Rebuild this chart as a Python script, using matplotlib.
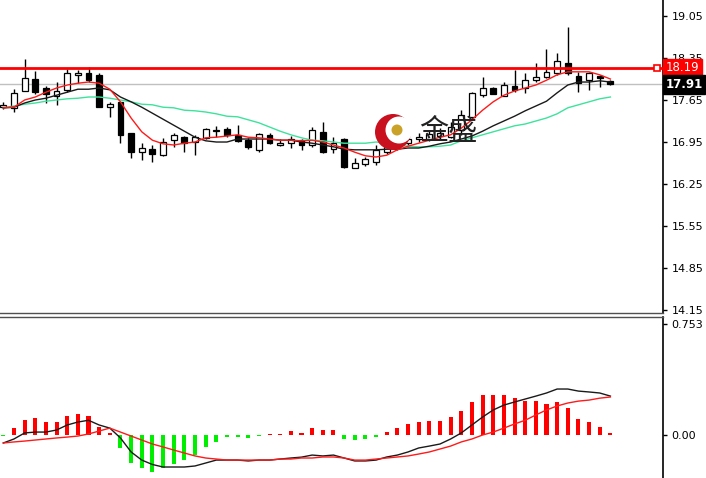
import matplotlib
matplotlib.use('Agg')
import matplotlib.pyplot as plt
import matplotlib.transforms as mtransforms
from matplotlib.patches import Ellipse
import numpy as np

# price candles
opens = [17.53, 17.52, 17.80, 18.00, 17.85, 17.72, 17.82, 18.07, 18.10, 18.07,
         17.53, 17.62, 17.10, 16.78, 16.83, 16.73, 16.98, 17.03, 16.95, 17.02,
         17.13, 17.17, 17.07, 16.98, 16.82, 17.07, 16.90, 16.93, 16.98, 16.90,
         17.12, 16.83, 17.00, 16.52, 16.58, 16.62, 16.78, 16.85, 16.93, 17.00,
         17.00, 17.05, 17.03, 17.15, 17.37, 17.73, 17.85, 17.72, 17.88, 17.85,
         17.98, 18.03, 18.10, 18.27, 18.05, 17.98, 18.05, 17.97]
highs = [17.62, 17.83, 18.33, 18.13, 17.88, 17.95, 18.17, 18.15, 18.20, 18.10,
         17.62, 17.62, 17.10, 16.93, 16.90, 17.02, 17.10, 17.05, 17.07, 17.18,
         17.22, 17.20, 17.23, 17.02, 17.10, 17.10, 17.00, 17.05, 17.00, 17.20,
         17.28, 17.03, 17.02, 16.68, 16.70, 16.90, 16.95, 17.02, 17.08, 17.10,
         17.15, 17.18, 17.28, 17.48, 17.78, 18.03, 17.87, 17.95, 18.15, 18.10,
         18.27, 18.50, 18.43, 18.87, 18.12, 18.12, 18.07, 17.98]
lows = [17.50, 17.45, 17.80, 17.75, 17.60, 17.57, 17.78, 17.93, 17.95, 17.53,
        17.37, 16.93, 16.68, 16.65, 16.62, 16.72, 16.87, 16.78, 16.73, 17.00,
        17.03, 17.03, 16.95, 16.83, 16.78, 16.92, 16.88, 16.85, 16.82, 16.87,
        16.77, 16.77, 16.52, 16.52, 16.55, 16.57, 16.75, 16.82, 16.90, 16.95,
        16.97, 17.00, 17.02, 17.07, 17.32, 17.70, 17.75, 17.72, 17.78, 17.77,
        17.95, 18.02, 18.07, 18.07, 17.78, 17.82, 17.87, 17.90]
closes = [17.56, 17.77, 18.02, 17.78, 17.75, 17.80, 18.10, 18.10, 17.98, 17.53,
          17.58, 17.07, 16.78, 16.85, 16.75, 16.95, 17.06, 16.93, 17.03, 17.17,
          17.15, 17.07, 16.97, 16.87, 17.08, 16.93, 16.93, 17.00, 16.90, 17.15,
          16.78, 16.93, 16.53, 16.60, 16.67, 16.82, 16.87, 16.95, 17.00, 17.03,
          17.08, 17.10, 17.20, 17.40, 17.77, 17.85, 17.75, 17.90, 17.82, 17.98,
          18.03, 18.12, 18.30, 18.10, 17.93, 18.10, 18.02, 17.91]

ma_fast = [17.52, 17.53, 17.65, 17.70, 17.78, 17.85, 17.90, 17.93, 17.95, 17.93,
           17.83, 17.62, 17.35, 17.12, 16.98, 16.92, 16.90, 16.93, 16.95, 17.02,
           17.03, 17.05, 17.07, 17.03, 17.02, 17.00, 16.98, 16.98, 16.97, 16.98,
           16.95, 16.90, 16.85, 16.78, 16.72, 16.70, 16.73, 16.82, 16.88, 16.93,
           16.98, 17.03, 17.07, 17.18, 17.32, 17.48, 17.62, 17.73, 17.80, 17.85,
           17.90, 17.98, 18.07, 18.12, 18.12, 18.12, 18.07, 18.00]
ma_mid = [17.52, 17.53, 17.60, 17.65, 17.68, 17.73, 17.78, 17.83, 17.83, 17.85,
          17.82, 17.70, 17.62, 17.53, 17.43, 17.33, 17.23, 17.13, 17.03, 16.97,
          16.95, 16.95, 17.00, 17.00, 17.00, 17.00, 16.98, 16.98, 16.95, 16.93,
          16.90, 16.87, 16.83, 16.82, 16.82, 16.82, 16.83, 16.83, 16.85, 16.85,
          16.88, 16.92, 16.95, 17.00, 17.05, 17.13, 17.22, 17.30, 17.38, 17.47,
          17.55, 17.63, 17.77, 17.90, 17.95, 17.95, 17.97, 17.95]
ma_slow = [17.52, 17.55, 17.58, 17.60, 17.63, 17.65, 17.67, 17.68, 17.70, 17.70,
           17.68, 17.65, 17.62, 17.58, 17.57, 17.53, 17.52, 17.48, 17.47, 17.45,
           17.42, 17.38, 17.37, 17.32, 17.27, 17.20, 17.13, 17.07, 17.02, 16.98,
           16.97, 16.95, 16.93, 16.93, 16.93, 16.95, 16.93, 16.90, 16.88, 16.87,
           16.87, 16.88, 16.90, 16.97, 17.02, 17.07, 17.12, 17.17, 17.22, 17.25,
           17.30, 17.35, 17.42, 17.52, 17.57, 17.62, 17.67, 17.70]

alert_level = 18.19
last_price = 17.91
price_ticks = [19.05, 18.35, 17.65, 16.95, 16.25, 15.55, 14.85, 14.15]

# MACD panel
hist = [-0.005, 0.047, 0.10, 0.115, 0.09, 0.09, 0.13, 0.14, 0.13, 0.055,
        0.012, -0.088, -0.19, -0.224, -0.25, -0.224, -0.20, -0.17, -0.135, -0.08,
        -0.047, -0.015, -0.012, -0.02, -0.006, 0.008, 0.008, 0.025, 0.015, 0.05,
        0.035, 0.035, -0.025, -0.035, -0.03, -0.012, 0.02, 0.045, 0.072, 0.088,
        0.095, 0.095, 0.122, 0.163, 0.226, 0.27, 0.27, 0.27, 0.25, 0.23,
        0.23, 0.21, 0.224, 0.18, 0.11, 0.088, 0.054, 0.012]
macd_line = [-0.054, -0.027, 0.014, 0.02, 0.02, 0.034, 0.068, 0.088, 0.10, 0.068,
             0.047, -0.02, -0.115, -0.17, -0.20, -0.217, -0.217, -0.217, -0.21, -0.19,
             -0.17, -0.17, -0.17, -0.176, -0.17, -0.17, -0.163, -0.156, -0.15, -0.136,
             -0.142, -0.136, -0.156, -0.176, -0.176, -0.17, -0.149, -0.136, -0.115, -0.088,
             -0.075, -0.061, -0.027, 0.014, 0.068, 0.122, 0.17, 0.203, 0.224, 0.244,
             0.264, 0.285, 0.312, 0.312, 0.298, 0.292, 0.285, 0.264]
signal_line = [-0.054, -0.047, -0.041, -0.034, -0.027, -0.020, -0.014, -0.007, 0.007, 0.027,
               0.047, 0.020, -0.007, -0.034, -0.061, -0.081, -0.102, -0.122, -0.142, -0.156,
               -0.163, -0.170, -0.170, -0.170, -0.170, -0.170, -0.163, -0.163, -0.156, -0.156,
               -0.149, -0.149, -0.156, -0.170, -0.170, -0.163, -0.156, -0.149, -0.142, -0.129,
               -0.115, -0.095, -0.075, -0.047, -0.027, 0.0, 0.02, 0.047, 0.075, 0.10,
               0.136, 0.17, 0.197, 0.217, 0.23, 0.237, 0.25, 0.258]
macd_ticks = [0.753, 0.0]
macd_labels = ['0.753', '0.00']

W, H = 706, 478
fig = plt.figure(figsize=(W / 100, H / 100), dpi=100)
axw = 663 / W
ax = fig.add_axes([0, 1 - 313 / H, axw, 313 / H])
ax2 = fig.add_axes([0, 0, axw, 161.5 / H])

x = np.arange(len(closes))
o = np.array(opens); c = np.array(closes)
up = c >= o

# candles
ax.vlines(x, lows, highs, color='black', lw=1, zorder=2)
body_lo = np.minimum(o, c)
body_h = np.maximum(np.abs(c - o), 0.012)
ax.bar(x, body_h, bottom=body_lo, width=0.55,
       color=np.where(up, 'white', 'black'), edgecolor='black', linewidth=0.9, zorder=3)

ax.plot(x, ma_slow, color='#3de39c', lw=1, zorder=4)
ax.plot(x, ma_mid, color='#1a1a1a', lw=1, zorder=4)
ax.plot(x, ma_fast, color='#ff1a1a', lw=1, zorder=4)

ax.axhline(last_price, color='#c0c0c0', lw=1, zorder=1)
ax.axhline(alert_level, color='#ff0000', lw=2, zorder=4)
trans = mtransforms.blended_transform_factory(ax.transAxes, ax.transData)
ax.plot([0.991], [alert_level], marker='s', ms=5, mfc='white', mec='red', mew=1.2,
        transform=trans, zorder=6, clip_on=False)

ax.set_xlim(-0.31, 61.94)
ax.set_ylim(14.10, 19.317)
ax.set_yticks(price_ticks)
ax.set_yticklabels(['%.2f' % t for t in price_ticks])
ax.yaxis.tick_right()
ax.tick_params(axis='y', direction='out', length=3, pad=3, labelsize=8, width=1)
ax.set_xticks([])
for s in ['left', 'top']:
    ax.spines[s].set_visible(False)
ax.spines['right'].set_linewidth(1.2)
ax.spines['bottom'].set_color('#505050')
ax.spines['bottom'].set_linewidth(1.0)

ax.text(1.004, alert_level, '%.2f' % alert_level, transform=trans, ha='left', va='center',
        color='white', fontsize=8.5, zorder=10, clip_on=False,
        bbox=dict(boxstyle='square,pad=0.22', fc='#ff0000', ec='#ff0000'))
ax.text(1.004, last_price, '%.2f' % last_price, transform=trans, ha='left', va='center',
        color='white', fontsize=8.5, fontweight='bold', zorder=10, clip_on=False,
        bbox=dict(boxstyle='square,pad=0.22', fc='black', ec='black'))

# watermark logo
cx, cy = 393 / 663, 1 - 132 / 313
ax.add_patch(Ellipse((cx, cy), 36 / 663, 36 / 313, transform=ax.transAxes,
                     fc='#c8101e', ec='none', zorder=7))
ax.add_patch(Ellipse((cx + 6 / 663, cy + 2 / 313), 27 / 663, 27 / 313, transform=ax.transAxes,
                     fc='white', ec='none', zorder=7))
ax.add_patch(Ellipse((cx + 4 / 663, cy + 2 / 313), 11 / 663, 11 / 313, transform=ax.transAxes,
                     fc='#c9a227', ec='none', zorder=8))
ax.text(448 / 663, cy, '金盛', transform=ax.transAxes, ha='center', va='center',
        fontsize=21, color='#222222', family=['Noto Sans CJK SC', 'DejaVu Sans'], zorder=8)

# MACD
hcol = np.where(np.array(hist) >= 0, '#ff0000', '#00ee00')
ax2.bar(x, hist, width=0.38, color=hcol, zorder=2)
ax2.plot(x, macd_line, color='#1a1a1a', lw=1, zorder=3)
ax2.plot(x, signal_line, color='#ff1a1a', lw=1, zorder=3)
ax2.set_xlim(-0.31, 61.94)
ax2.set_ylim(-0.2916, 0.804)
ax2.set_yticks(macd_ticks)
ax2.set_yticklabels(macd_labels)
ax2.yaxis.tick_right()
ax2.tick_params(axis='y', direction='out', length=3, pad=3, labelsize=8, width=1)
ax2.set_xticks([])
for s in ['left', 'bottom']:
    ax2.spines[s].set_visible(False)
ax2.spines['right'].set_linewidth(1.2)
ax2.spines['top'].set_color('#505050')
ax2.spines['top'].set_linewidth(1.0)

fig.savefig('out.png', dpi=100)
